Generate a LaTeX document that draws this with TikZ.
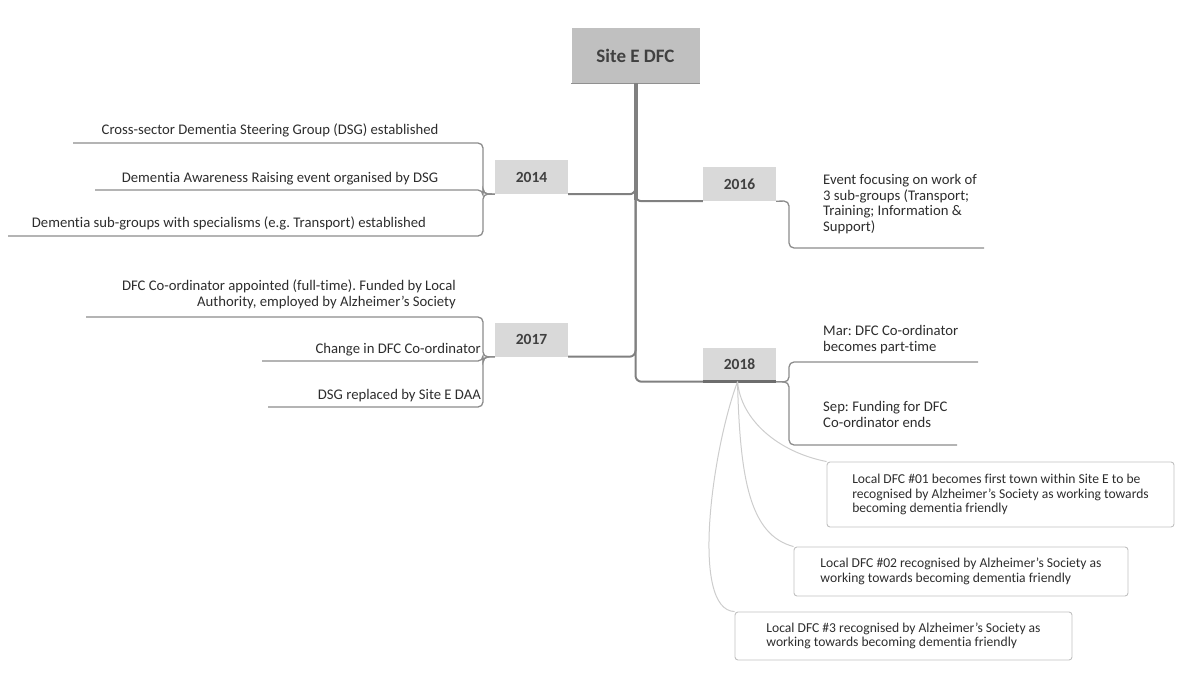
\documentclass[tikz,border=0pt]{standalone}
\usepackage{fontspec}
\setmainfont{Carlito}[Ligatures=NoCommon]
\frenchspacing
\definecolor{rootgray}{RGB}{192,192,192}
\definecolor{yeargray}{RGB}{217,217,217}
\definecolor{linegray}{RGB}{128,128,128}
\definecolor{leafgray}{RGB}{140,140,140}
\definecolor{twiggray}{RGB}{205,205,205}
\definecolor{txtdark}{RGB}{64,64,64}
\definecolor{txt}{RGB}{45,45,45}
\begin{document}
\begin{tikzpicture}[x=1pt,y=-1pt,
  rootbox/.style={fill=rootgray, minimum width=128pt, minimum height=55pt, inner sep=0pt,
    font=\fontsize{19}{21}\selectfont\bfseries, text=txtdark},
  yearbox/.style={fill=yeargray, minimum width=73pt, minimum height=34pt, inner sep=0pt,
    font=\fontsize{15.5}{17}\selectfont\bfseries, text=txtdark},
  leaftext/.style={inner sep=0pt, font=\fontsize{14.7}{15.4}\selectfont, text=txt},
  calloutbox/.style={draw=rootgray, line width=0.9pt, rounded corners=3pt, inner sep=0pt,
    align=left, font=\fontsize{13.6}{14.6}\selectfont, text=txt},
  branch/.style={draw=linegray, line width=2pt, rounded corners=6pt},
  leafline/.style={draw=leafgray, line width=1.3pt, rounded corners=5pt},
  twig/.style={draw=twiggray, line width=1pt}]
\useasboundingbox (0,0) rectangle (1188,682);

% central topic and year topics
\node[rootbox] (root) at (635.5,55.5) {Site E DFC};
\node[yearbox] (y2014) at (531.5,177) {2014};
\node[yearbox] (y2016) at (739.5,184) {2016};
\node[yearbox] (y2017) at (531.5,339.5) {2017};
\node[yearbox] (y2018) at (739.5,364.5) {2018};
\draw[rootgray!75!black, line width=1pt] (root.south west) -- (root.south east);

% branches from the central topic
\draw[branch] (root.south) |- (y2014.south east);
\draw[branch] (root.south) |- (y2016.south west);
\draw[branch] (root.south) |- (y2017.south east);
\draw[branch] (root.south) |- (y2018.south west);
\coordinate (trunkend) at (root.south |- y2014.south);
\draw[linegray, line width=4pt] (root.south) -- ([yshift=-6pt]trunkend);
\draw[linegray!85!black, line width=3.5pt] (y2018.south west) -- (y2018.south east);

% junction points and free ends of the subtopic lines
\coordinate (j14) at (483,194);
\coordinate (e14a) at (73,143);
\coordinate (e14b) at (95,190);
\coordinate (e14c) at (8,236);
\coordinate (j17) at (483,357);
\coordinate (e17a) at (86,317);
\coordinate (e17b) at (262,361);
\coordinate (e17c) at (268,407);
\coordinate (j16) at (789,201);
\coordinate (e16) at (984,248);
\coordinate (j18) at (789,382);
\coordinate (e18a) at (978,362);
\coordinate (e18b) at (957,445);

% 2014 subtopics
\draw[leafline] (y2014.south west) -- (j14) |- (e14a);
\draw[leafline] (y2014.south west) -- (j14) |- (e14b);
\draw[leafline] (y2014.south west) -- (j14) |- (e14c);
\node[leaftext, anchor=mid] (t14a) at (270,132) {Cross-sector Dementia Steering Group (DSG) established};
\node[leaftext, anchor=mid] (t14b) at (280,180) {Dementia Awareness Raising event organised by DSG};
\node[leaftext, anchor=mid] (t14c) at (229,225) {Dementia sub-groups with specialisms (e.g. Transport) established};

% 2017 subtopics (multi-line nodes sit on the baseline of their last line)
\draw[leafline] (y2017.south west) -- (j17) |- (e17a);
\draw[leafline] (y2017.south west) -- (j17) |- (e17b);
\draw[leafline] (y2017.south west) -- (j17) |- (e17c);
\node[leaftext, anchor=base east, align=right] (t17a) at (456,306)
  {DFC Co-ordinator appointed (full-time). Funded by Local\\[0.6pt]Authority, employed by Alzheimer’s Society};
\node[leaftext, anchor=mid east] (t17b) at (481,351) {Change in DFC Co-ordinator};
\node[leaftext, anchor=mid east] (t17c) at (481,397) {DSG replaced by Site E DAA};

% 2016 subtopic
\draw[leafline] (y2016.south east) -- (j16) |- (e16);
\node[leaftext, anchor=base west, align=left] (t16) at (823,231)
  {Event focusing on work of\\3 sub-groups (Transport;\\Training; Information \&\\Support)};

% 2018 subtopics
\draw[leafline] (y2018.south east) -- (j18) |- (e18a);
\draw[leafline] (y2018.south east) -- (j18) |- (e18b);
\node[leaftext, anchor=base west, align=left] (t18a) at (823,351)
  {Mar: DFC Co-ordinator\\becomes part-time};
\node[leaftext, anchor=base west, align=left] (t18b) at (823,427)
  {Sep: Funding for DFC\\Co-ordinator ends};

% 2018 floating callouts
\node[calloutbox, minimum width=347pt, minimum height=65pt] (c1) at (1000.5,494.5)
  {Local DFC \#01 becomes first town within Site E to be\\recognised by Alzheimer’s Society as working towards\\becoming dementia friendly};
\node[calloutbox, minimum width=334pt, minimum height=49pt] (c2) at (961,571.5)
  {Local DFC \#02 recognised by Alzheimer’s Society as\\working towards becoming dementia friendly};
\node[calloutbox, minimum width=337pt, minimum height=48pt] (c3) at (903.5,636)
  {Local DFC \#3 recognised by Alzheimer’s Society as\\working towards becoming dementia friendly};

\draw[twig] ([xshift=-2pt]y2018.south) .. controls (741,420) and (778,452) .. (c1.north west);
\draw[twig] ([xshift=-2pt]y2018.south) .. controls (740,480) and (750,535) .. (c2.north west);
\draw[twig] ([xshift=-2pt]y2018.south) .. controls (712,450) and (690,610) .. (c3.north west);
\end{tikzpicture}
\end{document}
